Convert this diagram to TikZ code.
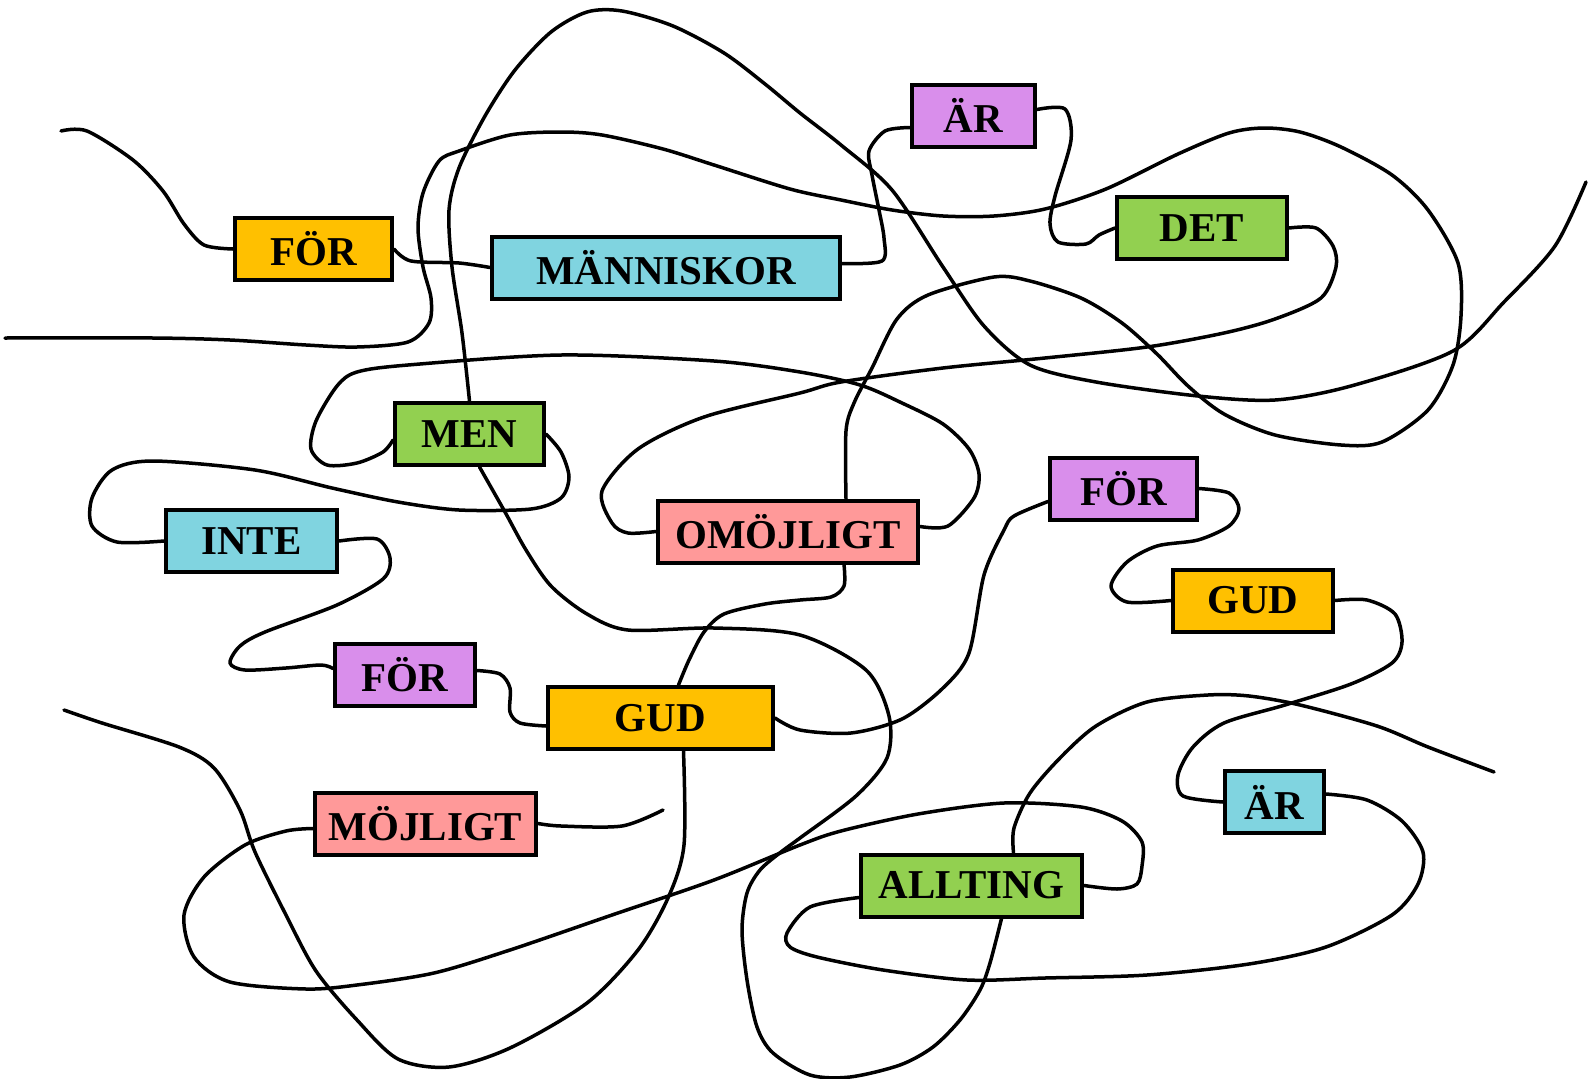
\documentclass[tikz,border=0pt]{standalone}
\usepackage{fontspec}
\setmainfont{Liberation Serif}
\usepackage{xcolor}
\usepackage{tikz}
\usetikzlibrary{positioning,calc}

\definecolor{wordorange}{HTML}{FFC000}
\definecolor{wordcyan}{HTML}{80D4E0}
\definecolor{wordpurple}{HTML}{D98EEB}
\definecolor{wordgreen}{HTML}{92D050}
\definecolor{wordpink}{HTML}{FF9999}

\tikzset{
  wordbox/.style={draw, line width=4pt, inner sep=0pt, minimum height=62pt,
    font=\fontsize{41}{44}\selectfont\bfseries},
  wire/.style={line width=3.5pt, line cap=round, line join=round},
}

\begin{document}
\begin{tikzpicture}[x=1pt, y=-1pt]
    \useasboundingbox (0,0) rectangle (1588,1079);

    % words
    \node[wordbox, fill=wordorange, minimum width=157pt] (for1) at (313.5,249) {FÖR};
    \node[wordbox, fill=wordcyan,   minimum width=348pt] (man)  at (666,267.5) {MÄNNISKOR};
    \node[wordbox, fill=wordpurple, minimum width=123pt] (ar1)  at (973.5,115.5) {ÄR};
    \node[wordbox, fill=wordgreen,  minimum width=170pt] (det)  at (1202,228) {DET};
    \node[wordbox, fill=wordpink,   minimum width=260pt] (omo)  at (788,531.5) {OMÖJLIGT};
    \node[wordbox, fill=wordgreen,  minimum width=149pt] (men)  at (469.5,434) {MEN};
    \node[wordbox, fill=wordcyan,   minimum width=171pt] (inte) at (251.5,541) {INTE};
    \node[wordbox, fill=wordpurple, minimum width=140pt] (for2) at (405,674.5) {FÖR};
    \node[wordbox, fill=wordorange, minimum width=225pt] (gud1) at (660.5,718) {GUD};
    \node[wordbox, fill=wordpurple, minimum width=147pt] (for3) at (1123.5,488.5) {FÖR};
    \node[wordbox, fill=wordorange, minimum width=160pt] (gud2) at (1253,600.5) {GUD};
    \node[wordbox, fill=wordcyan,   minimum width=99pt]  (ar2)  at (1274.5,802) {ÄR};
    \node[wordbox, fill=wordgreen,  minimum width=221pt] (all)  at (971.5,885.5) {ALLTING};
    \node[wordbox, fill=wordpink,   minimum width=221pt] (moj)  at (425.5,823.5) {MÖJLIGT};

    % loose ends
    \coordinate (endA) at (61,131);
    \coordinate (endB) at (5,338);
    \coordinate (endC) at (64,710);
    \coordinate (endD) at (1586,182);
    \coordinate (endE) at (1494,772);
    \coordinate (endF) at (663,810);

    % the tangled line
    \draw[wire] plot[smooth, tension=0.5] coordinates {(endA) (87,131) (133,160) (163,191) (184,224) (204,245) (for1.west)};
    \draw[wire] plot[smooth, tension=0.5] coordinates {(for1.east) (411,261) (459,263) (man.west)};
    \draw[wire] plot[smooth, tension=0.5] coordinates {([yshift=4pt]man.east) (882,261) (884,238) (879,210) (872,175) (869,151) (885,131) ([yshift=-12pt]ar1.west)};
    \draw[wire] plot[smooth, tension=0.5] coordinates {([yshift=6pt]ar1.east) (1065,109) (1071,140) (1055,196) (1050,224) (1058,242) (1086,244) (1099,235) (det.west)};
    \draw[wire] plot[smooth, tension=0.5] coordinates {(det.east) (1316,228) (1333,246) (1336,267) (1321,298) (1275,319) (1224,333) (1147,347) (1045,358) (943,368) (841,382) (800,393) (704,417) (638,449) (602,491) (612,523) (628,533) (omo.west)};
    \draw[wire] plot[smooth, tension=0.5] coordinates {([xshift=58pt]omo.north) (846,431) (854,403) (872,368) (897,319) (928,295) (994,277) (1030,281) (1081,298) (1122,323) (1157,354) (1188,386) (1224,414) (1275,435) (1341,445) (1382,442) (1428,410) (1453,365) (1461,316) (1458,263) (1428,210) (1392,175) (1341,147) (1300,132) (1264,128) (1229,133) (1178,154) (1106,189) (1045,209) (994,216) (943,216) (892,210) (841,200) (790,189) (714,165) (663,149) (602,135) (561,132) (510,135) (459,151) (439,161) (423,193) (418,228) (423,267) (431,298) (429,323) (408,342) (357,347) (306,345) (230,340) (153,338) (endB)};
    \draw[wire] plot[smooth, tension=0.5] coordinates {([yshift=5pt]omo.east) (948,526) (974,498) (979,474) (969,449) (943,424) (902,403) (860,385) (800,372) (714,361) (561,355) (408,365) (357,372) (337,386) (316,421) (311,449) (327,465) (357,463) (383,452) ([yshift=-6pt]men.west)};
    \draw[wire] plot[smooth, tension=0.5] coordinates {(men.east) (561,452) (569,477) (561,498) (531,509) (459,510) (398,502) (332,488) (255,470) (153,461) (112,470) (92,498) (92,526) (117,542) (inte.west)};
    \draw[wire] plot[smooth, tension=0.5] coordinates {(inte.east) (377,539) (390,558) (383,579) (337,605) (265,632) (240,646) (230,663) (245,670) (286,668) (321,665) ([yshift=6pt]for2.west)};
    \draw[wire] plot[smooth, tension=0.5] coordinates {([yshift=4pt]for2.east) (500,674) (510,688) (510,712) (520,723) ([yshift=-8pt]gud1.west)};
    \draw[wire] plot[smooth, tension=0.5] coordinates {(gud1.east) (800,730) (851,733) (902,719) (943,688) (969,653) (984,575) (1004,530) (1014,516) ([yshift=-13pt]for3.west)};
    \draw[wire] plot[smooth, tension=0.5] coordinates {(men.north) (462,333) (452,267) (449,210) (459,168) (485,116) (515,70) (551,32) (587,12) (622,11) (673,26) (724,53) (765,84) (800,113) (841,145) (892,190) (943,267) (984,326) (1030,365) (1096,382) (1198,396) (1275,400) (1351,386) (1453,351) (1504,302) (1555,246) (endD)};
    \draw[wire] plot[smooth, tension=0.5] coordinates {([xshift=56pt]omo.south) (844,586) (831,597) (800,600) (765,604) (724,614) (704,632) (689,660) ([xshift=18pt]gud1.north)};
    \draw[wire] plot[smooth, tension=0.5] coordinates {([xshift=23pt]gud1.south) (684,845) (668,898) (638,950) (587,1003) (510,1048) (449,1067) (398,1059) (357,1020) (316,971) (286,915) (255,852) (240,810) (214,768) (179,747) (102,723) (endC)};
    \draw[wire] plot[smooth, tension=0.5] coordinates {(all.east) (1117,889) (1137,884) (1142,866) (1142,842) (1122,821) (1081,807) (1004,803) (918,814) (841,831) (800,845) (714,880) (612,915) (510,950) (434,973) (357,985) (306,989) (230,982) (194,957) (184,915) (204,877) (245,845) (286,831) ([yshift=-5pt]moj.west)};
    \draw[wire] plot[smooth, tension=0.5] coordinates {(moj.east) (561,826) (622,826) (endF)};
    \draw[wire] plot[smooth, tension=0.5] coordinates {(for3.east) (1229,493) (1239,509) (1229,526) (1198,540) (1157,546) (1127,562) (1111,586) (1127,602) (gud2.west)};
    \draw[wire] plot[smooth, tension=0.5] coordinates {(gud2.east) (1367,600) (1395,614) (1402,642) (1392,663) (1351,684) (1285,705) (1224,723) (1193,747) (1178,775) (1183,796) (ar2.west)};
    \draw[wire] plot[smooth, tension=0.5] coordinates {([yshift=8pt]ar2.east) (1367,800) (1402,821) (1423,852) (1418,884) (1392,915) (1326,947) (1249,964) (1147,975) (1045,978) (967,980) (883,970) (817,957) (790,947) (787,933) (810,907) ([yshift=-12pt]all.west)};
    \draw[wire] plot[smooth, tension=0.5] coordinates {([xshift=42pt]all.north) (1014,828) (1030,793) (1060,758) (1096,726) (1147,702) (1208,695) (1249,696) (1300,705) (1377,726) (1428,747) (endE)};
    \draw[wire] plot[smooth, tension=0.5] coordinates {([xshift=30pt]all.south) (990,963) (980,990) (960,1020) (933,1047) (900,1065) (850,1077) (810,1075) (773,1053) (757,1027) (747,980) (742,930) (747,893) (760,870) (781,852) (800,838) (856,796) (887,758) (889,716) (866,670) (800,635) (714,628) (628,630) (587,614) (551,586) (526,550) (505,512) ([xshift=10pt]men.south)};
\end{tikzpicture}
\end{document}
